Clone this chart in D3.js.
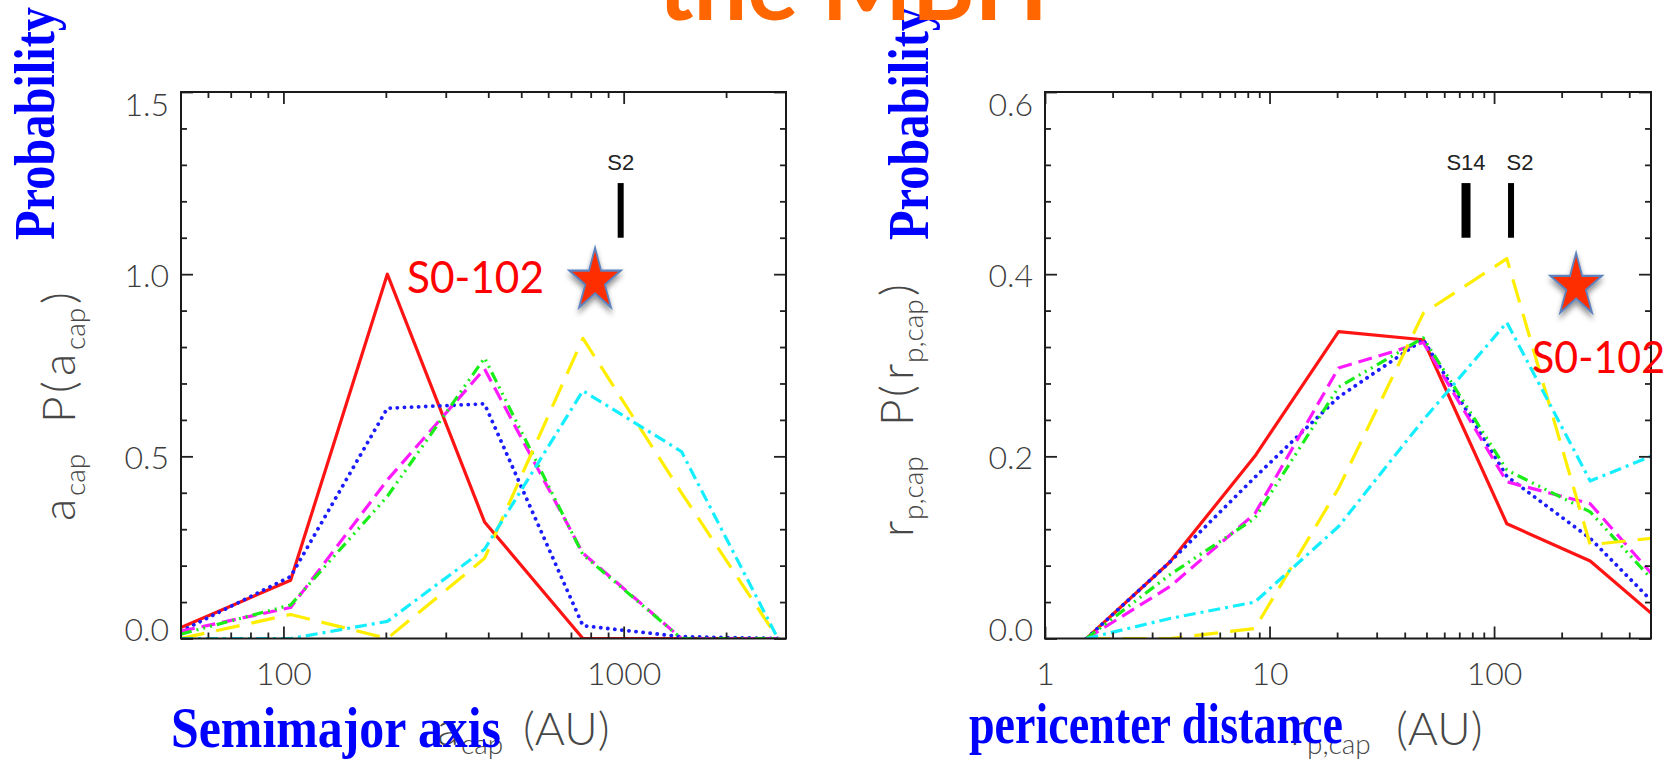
<!DOCTYPE html>
<html><head><meta charset="utf-8">
<script src="https://cdn.jsdelivr.net/npm/d3@7"></script>
<style>body{margin:0;background:#fff;}svg{display:block;}</style>
</head><body>
<svg id="c" width="1677" height="761"></svg>
<script>
// ---------------- data ----------------
// left panel: semimajor axis bins (AU) and probability values
const aBins    = [50, 105, 202, 390, 759, 1479, 2840];
const aRed     = [0.03, 0.16, 1.00, 0.32, 0.00, 0.00, 0.00];
const aBlue    = [0.02, 0.17, 0.632, 0.644, 0.035, 0.005, 0.00];
const aMagenta = [0.02, 0.085, 0.435, 0.74, 0.234, 0.00, 0.00];
const aGreen   = [0.012, 0.092, 0.39, 0.77, 0.23, 0.00, 0.00];
const aYellow  = [0.00, 0.066, 0.00, 0.22, 0.824, 0.40, 0.00];
const aCyan    = [0.00, 0.00, 0.047, 0.245, 0.68, 0.513, 0.00];

// right panel: pericenter distance bins (AU) and probability values
const rBins    = [1.53, 3.6, 8.6, 20.3, 48.4, 114, 268, 500];
const rRed     = [0.00, 0.084, 0.20, 0.337, 0.328, 0.126, 0.085, 0.028];
const rBlue    = [0.00, 0.084, 0.177, 0.265, 0.328, 0.178, 0.11, 0.042];
const rMagenta = [0.00, 0.057, 0.137, 0.297, 0.325, 0.172, 0.148, 0.072];
const rGreen   = [0.00, 0.07, 0.132, 0.276, 0.33, 0.185, 0.139, 0.066];
const rYellow  = [0.00, 0.00, 0.011, 0.165, 0.357, 0.417, 0.103, 0.11];
const rCyan    = [0.00, 0.022, 0.04, 0.123, 0.24, 0.347, 0.173, 0.20];

// tick labels
const aXTicks = [100, 1000];
const aYTicks = [0.0, 0.5, 1.0, 1.5];
const rXTicks = [1, 10, 100];
const rYTicks = [0.0, 0.2, 0.4, 0.6];

// annotations (data units)
const aStars = [{name: "S2", x: 980, y0: 1.10, y1: 1.25}];
const rStars = [{name: "S14", x: 75, y0: 0.44, y1: 0.50}, {name: "S2", x: 119, y0: 0.44, y1: 0.50}];
const aS0102 = {x: 824, y: 0.982};
const rS0102 = {x: 232, y: 0.387};

// ---------------- drawing ----------------
const svg = d3.select("#c");
const defs = svg.append("defs");
const f = defs.append("filter").attr("id", "shadow").attr("x", "-50%").attr("y", "-50%").attr("width", "200%").attr("height", "200%");
f.append("feDropShadow").attr("dx", 0).attr("dy", 4).attr("stdDeviation", 3).attr("flood-color", "#000").attr("flood-opacity", 0.45);

const lineStyles = {
  red:     {color: "#ff1414", dash: null, width: 3.2},
  blue:    {color: "#1c1cff", dash: "0.1 7", cap: "round", width: 3.8},
  magenta: {color: "#ff19ff", dash: "14 7", width: 3.2},
  green:   {color: "#19ee19", dash: "11 5 2 5 2 5 2 5", width: 3.2},
  yellow:  {color: "#ffee00", dash: "24 12", width: 3.2},
  cyan:    {color: "#14eeff", dash: "12 5 3 5", width: 3.2}
};

const panels = [
  {id: "a", xDomain: [50, 3000], xRange: [181, 786], yDomain: [0, 1.5], yRange: [638.5, 92],
   bins: aBins, xTicks: aXTicks, yTicks: aYTicks, yMinorStep: 0.1,
   series: [["red", aRed], ["blue", aBlue], ["magenta", aMagenta], ["green", aGreen], ["yellow", aYellow], ["cyan", aCyan]],
   stars: aStars, s0102: aS0102},
  {id: "r", xDomain: [1, 500], xRange: [1045, 1651], yDomain: [0, 0.6], yRange: [638.5, 92],
   bins: rBins, xTicks: rXTicks, yTicks: rYTicks, yMinorStep: 0.04,
   series: [["red", rRed], ["blue", rBlue], ["magenta", rMagenta], ["green", rGreen], ["yellow", rYellow], ["cyan", rCyan]],
   stars: rStars, s0102: rS0102}
];

const tickFont = "Lato, 'Liberation Sans', sans-serif";

panels.forEach(p => {
  const x = d3.scaleLog().domain(p.xDomain).range(p.xRange);
  const y = d3.scaleLinear().domain(p.yDomain).range(p.yRange);
  const [x0, x1] = p.xRange, [yb, yt] = p.yRange;

  defs.append("clipPath").attr("id", "clip" + p.id).append("rect")
    .attr("x", x0).attr("y", yt).attr("width", x1 - x0).attr("height", yb - yt);

  const g = svg.append("g");
  const lg = g.append("g").attr("clip-path", `url(#clip${p.id})`);
  const line = d3.line().x(d => x(d[0])).y(d => y(d[1]));
  p.series.forEach(([name, vals]) => {
    const st = lineStyles[name];
    lg.append("path")
      .datum(p.bins.map((b, i) => [b, vals[i]]))
      .attr("d", line).attr("fill", "none")
      .attr("stroke", st.color).attr("stroke-width", st.width)
      .attr("stroke-dasharray", st.dash)
      .attr("stroke-linecap", st.cap || "butt")
      .attr("stroke-linejoin", "round");
  });

  // ticks
  const isMajor = v => p.xTicks.some(t => Math.abs(t - v) < 1e-9);
  const minorX = x.ticks().filter(v => !isMajor(v) && v > p.xDomain[0] * 1.001 && v < p.xDomain[1] * 0.999);
  const yMinor = d3.range(p.yDomain[0], p.yDomain[1] + 1e-9, p.yMinorStep)
    .filter(v => !p.yTicks.some(t => Math.abs(t - v) < 1e-6) && v > 1e-6 && v < p.yDomain[1] - 1e-6);

  const styleAxis = sel => {
    sel.select(".domain").remove();
    sel.selectAll("line").attr("stroke", "#222").attr("stroke-width", 1.8);
    sel.selectAll("text").attr("font-family", tickFont).attr("font-weight", 300)
      .attr("font-size", 32).attr("fill", "#3c3c3c");
  };

  g.append("g").attr("transform", `translate(0,${yb})`)
    .call(d3.axisBottom(x).tickValues(p.xTicks).tickFormat(d3.format("d")).tickSizeInner(-12).tickSizeOuter(0).tickPadding(24))
    .call(styleAxis);
  g.append("g").attr("transform", `translate(0,${yb})`)
    .call(d3.axisBottom(x).tickValues(minorX).tickFormat("").tickSizeInner(-6).tickSizeOuter(0))
    .call(styleAxis);
  g.append("g").attr("transform", `translate(0,${yt})`)
    .call(d3.axisTop(x).tickValues(p.xTicks).tickFormat("").tickSizeInner(-12).tickSizeOuter(0))
    .call(styleAxis);
  g.append("g").attr("transform", `translate(0,${yt})`)
    .call(d3.axisTop(x).tickValues(minorX).tickFormat("").tickSizeInner(-6).tickSizeOuter(0))
    .call(styleAxis);

  const la = g.append("g").attr("transform", `translate(${x0},0)`)
    .call(d3.axisLeft(y).tickValues(p.yTicks).tickFormat(d3.format(".1f")).tickSizeInner(-12).tickSizeOuter(0).tickPadding(12))
    .call(styleAxis);
  la.selectAll(".tick text").attr("dy", d => d === p.yDomain[1] ? "0.72em" : (d === p.yDomain[0] ? "0.05em" : "0.38em"));
  g.append("g").attr("transform", `translate(${x0},0)`)
    .call(d3.axisLeft(y).tickValues(yMinor).tickFormat("").tickSizeInner(-6).tickSizeOuter(0))
    .call(styleAxis);
  g.append("g").attr("transform", `translate(${x1},0)`)
    .call(d3.axisRight(y).tickValues(p.yTicks).tickFormat("").tickSizeInner(-12).tickSizeOuter(0))
    .call(styleAxis);
  g.append("g").attr("transform", `translate(${x1},0)`)
    .call(d3.axisRight(y).tickValues(yMinor).tickFormat("").tickSizeInner(-6).tickSizeOuter(0))
    .call(styleAxis);

  g.append("rect").attr("x", x0).attr("y", yt).attr("width", x1 - x0).attr("height", yb - yt)
    .attr("fill", "none").attr("stroke", "#1a1a1a").attr("stroke-width", 2);

  // known star markers (bars + names)
  p.stars.forEach(s => {
    const w = s.name === "S14" ? 9 : 6;
    g.append("rect").attr("x", x(s.x) - w / 2).attr("y", y(s.y1)).attr("width", w).attr("height", y(s.y0) - y(s.y1)).attr("fill", "#000");
    g.append("text").attr("x", x(s.x) + (s.name === "S2" && p.id === "r" ? 9 : 0)).attr("y", y(s.y1) - 13)
      .attr("text-anchor", "middle").attr("font-family", "'Liberation Sans Narrow', 'Liberation Sans', Arial, sans-serif")
      .attr("font-size", 22).attr("fill", "#222").text(s.name);
  });

  // S0-102 star
  const star = d3.symbol().type(d3.symbolStar).size(33 * 33 / 0.8908130915292852)();
  g.append("path").attr("d", star)
    .attr("transform", `translate(${x(p.s0102.x)},${y(p.s0102.y)}) scale(0.82,1)`)
    .attr("fill", "#ff2e00").attr("stroke", "#5d82bd").attr("stroke-width", 2.2)
    .attr("filter", "url(#shadow)");
});

// S0-102 labels
const labelFont = "Lato, 'Open Sans', sans-serif";
svg.append("text").attr("x", 407).attr("y", 293).attr("font-family", labelFont).attr("font-size", 44)
  .attr("fill", "#ff0000").attr("textLength", 137).attr("lengthAdjust", "spacingAndGlyphs").text("S0-102");
svg.append("text").attr("x", 1532).attr("y", 373).attr("font-family", labelFont).attr("font-size", 44)
  .attr("fill", "#ff0000").attr("textLength", 133).attr("lengthAdjust", "spacingAndGlyphs").text("S0-102");

// axis titles (gray)
const gray = "#474747";
const axFont = "Lato, 'Liberation Sans', Arial, sans-serif";
const big = 46, small = 28;
function rotLabel(tx, ty, parts) {
  const t = svg.append("text").attr("transform", `translate(${tx},${ty}) rotate(-90)`)
    .attr("font-family", axFont).attr("font-weight", 300).attr("fill", gray);
  parts.forEach(pt => t.append("tspan").attr("x", pt[0]).attr("y", pt[2] ? 10 : 0)
    .attr("font-size", pt[2] ? small : big).text(pt[1]));
}
rotLabel(75, 521, [[0, "a"], [25, "cap", 1], [98, "P"], [128, "("], [145, "a"], [171, "cap", 1], [217, ")"]]);
rotLabel(913, 537, [[0, "r"], [17, "p,cap", 1], [111, "P"], [140, "("], [157, "r"], [174, "p,cap", 1], [241, ")"]]);

function horLabel(parts, base) {
  const t = svg.append("text").attr("font-family", axFont).attr("font-weight", 300).attr("fill", gray);
  parts.forEach(pt => t.append("tspan").attr("x", pt[0]).attr("y", pt[2] ? base + 9 : base)
    .attr("font-size", pt[2] ? small : big).text(pt[1]));
}
horLabel([[437, "a"], [461, "cap", 1], [523, "(AU)"]], 745);
horLabel([[1290, "r"], [1307, "p,cap", 1], [1396, "(AU)"]], 745);

// blue overlay titles
const blueFont = "'Liberation Serif', 'Times New Roman', serif";
function blue(sel) { return sel.attr("font-family", blueFont).attr("font-weight", "bold").attr("font-size", 56).attr("fill", "#0000ff").attr("lengthAdjust", "spacingAndGlyphs"); }
blue(svg.append("text")).attr("x", 171).attr("y", 747).attr("textLength", 330).text("Semimajor axis");
blue(svg.append("text")).attr("x", 969).attr("y", 743).attr("textLength", 374).text("pericenter distance");
blue(svg.append("text")).attr("transform", "translate(54,240) rotate(-90)").attr("textLength", 233).text("Probability");
blue(svg.append("text")).attr("transform", "translate(928,240) rotate(-90)").attr("textLength", 233).text("Probability");

// orange slide title (cut off at top)
svg.append("text").attr("x", 658).attr("y", 20).attr("font-family", "Lato, 'Open Sans', sans-serif")
  .attr("font-weight", "bold").attr("font-size", 96).attr("fill", "#ff6600")
  .attr("textLength", 390).attr("lengthAdjust", "spacingAndGlyphs").text("the MBH");
</script>
</body></html>
